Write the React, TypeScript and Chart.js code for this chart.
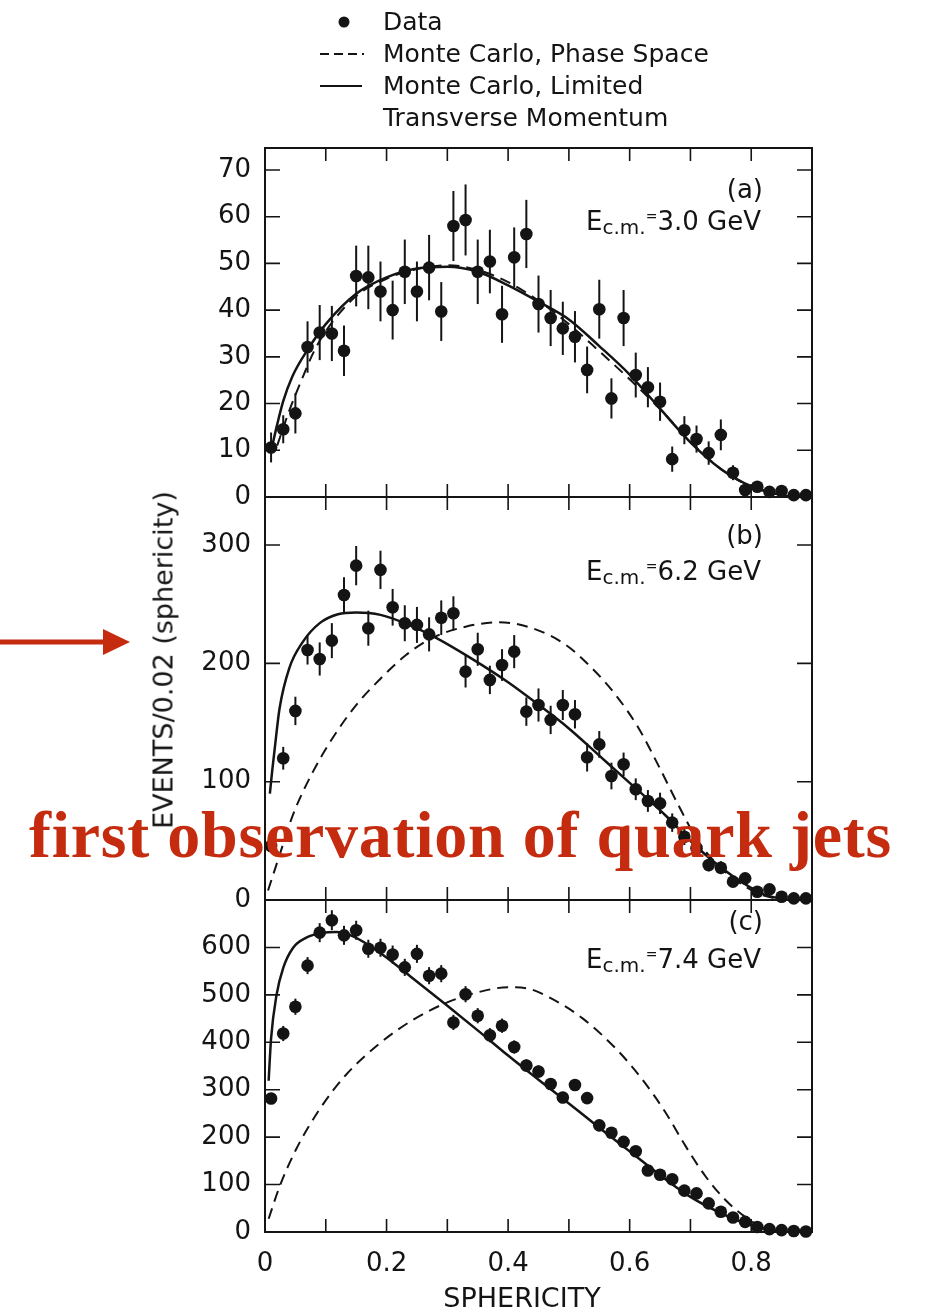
import { useEffect, useRef } from 'react';
import { Chart, registerables } from 'chart.js';

Chart.register(...registerables);

// ---------- data ----------
const BIN_CENTERS = [
  0.01, 0.03, 0.05, 0.07, 0.09, 0.11, 0.13, 0.15, 0.17, 0.19, 0.21, 0.23, 0.25, 0.27, 0.29,
  0.31, 0.33, 0.35, 0.37, 0.39, 0.41, 0.43, 0.45, 0.47, 0.49, 0.51, 0.53, 0.55, 0.57, 0.59,
  0.61, 0.63, 0.65, 0.67, 0.69, 0.71, 0.73, 0.75, 0.77, 0.79, 0.81, 0.83, 0.85, 0.87, 0.89,
];

// (a) Ecm = 3.0 GeV
const A_DATA = [
  10.6, 14.5, 17.9, 32.1, 35.2, 35.0, 31.3, 47.3, 47.0, 44.0, 40.0, 48.2, 44.0, 49.1, 39.7,
  58.0, 59.3, 48.2, 50.4, 39.1, 51.3, 56.3, 41.3, 38.3, 36.1, 34.3, 27.2, 40.2, 21.1, 38.3,
  26.1, 23.5, 20.4, 8.1, 14.3, 12.4, 9.4, 13.3, 5.2, 1.5, 2.2, 1.1, 1.3, 0.4, 0.4,
];
const A_ERR = [
  3.2, 3.0, 4.3, 5.5, 5.9, 5.9, 5.4, 6.5, 6.8, 6.4, 6.3, 6.9, 6.4, 7.0, 6.3,
  7.5, 7.6, 6.9, 6.8, 6.1, 6.4, 7.3, 6.1, 6.0, 5.7, 5.5, 5.0, 6.3, 4.3, 6.0,
  4.8, 4.3, 4.1, 2.7, 3.0, 2.9, 2.5, 3.3, 1.6, 1.0, 1.2, 0.8, 0.8, 0.5, 0.5,
];
const A_LIMITED_X = [0.012, 0.02, 0.03, 0.045, 0.07, 0.1, 0.15, 0.2, 0.25, 0.3, 0.35, 0.4, 0.45, 0.5, 0.55, 0.6, 0.65, 0.7, 0.75, 0.8, 0.85, 0.875];
const A_LIMITED_Y = [11, 15.5, 20.5, 25.8, 31.5, 37, 43.5, 47, 48.9, 49.3, 48.2, 45.3, 41.8, 38, 32.3, 26.2, 18.9, 11.7, 6.0, 2.3, 0.4, 0];
const A_PHASE_X = [0.02, 0.04, 0.06, 0.08, 0.1, 0.15, 0.2, 0.25, 0.3, 0.35, 0.4, 0.45, 0.5, 0.55, 0.6, 0.65, 0.7, 0.75, 0.8, 0.85, 0.88];
const A_PHASE_Y = [11, 18.5, 25, 31, 35.5, 43, 46.7, 48.8, 49.6, 48.6, 46, 42, 37, 31.2, 25.2, 18.8, 11.8, 6, 2.2, 0.4, 0];

// (b) Ecm = 6.2 GeV
const B_DATA = [
  45.6, 119.8, 159.8, 211.3, 203.7, 219.2, 257.8, 282.6, 229.7, 279.0, 247.4, 233.9, 232.5, 224.5, 238.6,
  242.3, 193.0, 211.9, 186.0, 198.6, 209.9, 159.2, 164.8, 152.2, 164.8, 157.0, 120.6, 131.5, 104.8, 114.7,
  93.6, 83.7, 81.7, 65.4, 53.5, 43.7, 29.6, 27.3, 15.5, 18.3, 7.0, 9.0, 2.8, 1.4, 1.4,
];
const B_ERR = [
  6, 9.6, 12.0, 12.3, 14, 14.8, 15, 16.6, 14.8, 16.2, 15.5, 15.2, 15.2, 14.4, 14.6,
  14.4, 13.4, 14, 12, 13.4, 14, 12, 14, 12, 12.7, 12, 12, 11.3, 11.3, 9.9,
  9.2, 9.2, 9, 7.8, 7, 6.5, 5.5, 5.5, 4, 4.5, 3, 3, 2, 1.5, 1.5,
];
const B_LIMITED_X = [0.008, 0.012, 0.016, 0.024, 0.04, 0.062, 0.09, 0.12, 0.15, 0.19, 0.23, 0.28, 0.34, 0.4, 0.45, 0.5, 0.55, 0.6, 0.66, 0.71, 0.77, 0.82, 0.86];
const B_LIMITED_Y = [90, 110, 128, 162, 196, 218, 234, 241.5, 243, 241, 234, 222, 204, 184, 165, 145, 122, 99, 71, 45, 20, 5, 0];
const B_PHASE_X = [0.005, 0.024, 0.046, 0.079, 0.111, 0.15, 0.188, 0.232, 0.276, 0.33, 0.385, 0.44, 0.495, 0.538, 0.577, 0.615, 0.647, 0.68, 0.713, 0.745, 0.778, 0.811, 0.85];
const B_PHASE_Y = [8, 38, 72, 108.5, 136.7, 164.8, 186, 207, 221.7, 231, 234.7, 229.7, 215.6, 195.9, 173.3, 145, 114, 80.3, 49.3, 29.6, 15.5, 5.6, 0];

// (c) Ecm = 7.4 GeV
const C_DATA = [
  281.5, 418.5, 475, 561.7, 631.2, 657.4, 625.5, 636.2, 597.2, 599.3, 585, 558, 586.5, 540.4, 544.7,
  441.8, 501.4, 456, 414.9, 435, 390, 351, 338.3, 312, 283.6, 310, 282.3, 224.9, 209.2, 190,
  170.2, 129.8, 120.6, 111.3, 87.2, 81.5, 60.3, 42.6, 30.5, 21.3, 10.6, 6, 4, 2, 1,
];
const C_ERR = [
  10, 16, 17, 18, 20, 21, 20, 20, 19, 19, 19, 18, 19, 18, 18,
  16, 17, 16, 15, 15, 14, 13, 13, 12, 12, 12, 12, 10, 10, 9,
  9, 8, 8, 7, 6, 6, 5, 4, 4, 3, 2, 2, 1, 1, 1,
];
const C_LIMITED_X = [0.006, 0.01, 0.019, 0.03, 0.046, 0.068, 0.095, 0.117, 0.144, 0.188, 0.243, 0.298, 0.352, 0.4, 0.45, 0.5, 0.55, 0.6, 0.65, 0.7, 0.75, 0.8, 0.85];
const C_LIMITED_Y = [319, 408, 500, 557, 599, 620.6, 631, 632.6, 624, 590, 535, 479, 423, 372, 321, 271, 220, 170, 120, 74, 40, 14, 0];
const C_PHASE_X = [0.006, 0.024, 0.051, 0.09, 0.133, 0.188, 0.243, 0.298, 0.352, 0.4, 0.43, 0.467, 0.522, 0.577, 0.62, 0.659, 0.692, 0.725, 0.758, 0.79, 0.823, 0.856];
const C_PHASE_Y = [28, 95.7, 173.8, 259, 331, 397, 447, 483, 506, 516, 514, 495, 451, 387, 323, 252, 181, 117, 67, 32, 7, 0];

// ticks
const X_TICKS = [0, 0.1, 0.2, 0.3, 0.4, 0.5, 0.6, 0.7, 0.8];
const X_TICK_LABELS = ['0', '', '0.2', '', '0.4', '', '0.6', '', '0.8'];
const Y_TICKS_A = [0, 10, 20, 30, 40, 50, 60, 70];
const Y_TICKS_B = [0, 100, 200, 300];
const Y_TICKS_C = [0, 100, 200, 300, 400, 500, 600];

const INK = '#141414';
const RED = '#c52b0e';
const TICK_FONT = { family: 'DejaVu Sans', size: 26 };

const pts = (xs: number[], ys: number[]) => xs.map((x, i) => ({ x, y: ys[i] }));

function panelDatasets(axis: string, data: number[], err: number[], lx: number[], ly: number[], px: number[], py: number[]) {
  return [
    {
      label: 'Data',
      data: pts(BIN_CENTERS, data),
      errors: err,
      yAxisID: axis,
      xAxisID: 'x',
      showLine: false,
      pointRadius: 6.3,
      pointBackgroundColor: INK,
      pointBorderColor: INK,
      pointBorderWidth: 0,
      clip: 12,
    },
    {
      label: 'Monte Carlo, Limited Transverse Momentum',
      data: pts(lx, ly),
      yAxisID: axis,
      xAxisID: 'x',
      borderColor: INK,
      borderWidth: 2.5,
      pointRadius: 0,
      cubicInterpolationMode: 'monotone',
      fill: false,
    },
    {
      label: 'Monte Carlo, Phase Space',
      data: pts(px, py),
      yAxisID: axis,
      xAxisID: 'x',
      borderColor: INK,
      borderWidth: 2,
      borderDash: [11, 7],
      pointRadius: 0,
      cubicInterpolationMode: 'monotone',
      fill: false,
    },
  ];
}

const framePlugin = {
  id: 'panelFrames',
  afterDatasetsDraw(chart: any) {
    const ctx = chart.ctx;
    const xs = chart.scales.x;
    ctx.save();
    ctx.strokeStyle = INK;
    ctx.fillStyle = INK;
    // error bars
    chart.data.datasets.forEach((ds: any) => {
      if (!ds.errors) return;
      const ys = chart.scales[ds.yAxisID];
      ctx.lineWidth = 2;
      ds.data.forEach((p: any, i: number) => {
        const e = ds.errors[i];
        const px = xs.getPixelForValue(p.x);
        const y1 = ys.getPixelForValue(p.y + e);
        const y2 = ys.getPixelForValue(Math.max(0, p.y - e));
        ctx.beginPath();
        ctx.moveTo(px, y1);
        ctx.lineTo(px, y2);
        ctx.stroke();
      });
    });
    // frames and inward ticks
    ['ya', 'yb', 'yc'].forEach((id) => {
      const s = chart.scales[id];
      ctx.lineWidth = 2;
      ctx.strokeRect(xs.left, s.top, xs.right - xs.left, s.bottom - s.top);
      ctx.lineWidth = 1.6;
      s.ticks.forEach((t: any) => {
        if (t.value <= 0) return;
        const py = s.getPixelForValue(t.value);
        if (py <= s.top + 1) return;
        ctx.beginPath();
        ctx.moveTo(xs.left, py);
        ctx.lineTo(xs.left + 15, py);
        ctx.moveTo(xs.right, py);
        ctx.lineTo(xs.right - 15, py);
        ctx.stroke();
      });
      xs.ticks.forEach((t: any) => {
        if (t.value <= 0) return;
        const px = xs.getPixelForValue(t.value);
        ctx.beginPath();
        ctx.moveTo(px, s.bottom);
        ctx.lineTo(px, s.bottom - 13);
        ctx.moveTo(px, s.top);
        ctx.lineTo(px, s.top + 13);
        ctx.stroke();
      });
    });
    ctx.restore();
  },
};

function yAxis(ticks: number[], max: number, stackWeight: number, weight: number) {
  return {
    type: 'linear',
    position: 'left',
    stack: 'panels',
    stackWeight,
    weight,
    min: 0,
    max,
    grid: { display: false, drawTicks: false },
    border: { display: false },
    afterBuildTicks: (s: any) => {
      s.ticks = ticks.map((v) => ({ value: v }));
    },
    afterFit: (s: any) => {
      s.width = 265;
    },
    ticks: {
      autoSkip: false,
      padding: 14,
      color: INK,
      font: TICK_FONT,
      callback: (v: any) => String(v),
    },
  };
}

export default function App() {
  const ref = useRef<HTMLCanvasElement>(null);

  useEffect(() => {
    if (!ref.current) return;
    const chart = new Chart(ref.current, {
      type: 'line',
      data: {
        datasets: [
          ...panelDatasets('ya', A_DATA, A_ERR, A_LIMITED_X, A_LIMITED_Y, A_PHASE_X, A_PHASE_Y),
          ...panelDatasets('yb', B_DATA, B_ERR, B_LIMITED_X, B_LIMITED_Y, B_PHASE_X, B_PHASE_Y),
          ...panelDatasets('yc', C_DATA, C_ERR, C_LIMITED_X, C_LIMITED_Y, C_PHASE_X, C_PHASE_Y),
        ] as any,
      },
      options: {
        responsive: false,
        animation: false,
        events: [],
        layout: { padding: { left: 0, right: 115, top: 148, bottom: 0 } },
        plugins: { legend: { display: false }, tooltip: { enabled: false } },
        scales: {
          x: {
            type: 'linear',
            position: 'bottom',
            min: 0,
            max: 0.9,
            grid: { display: false, drawTicks: false },
            border: { display: false },
            afterBuildTicks: (s: any) => {
              s.ticks = X_TICKS.map((v) => ({ value: v }));
            },
            afterFit: (s: any) => {
              s.height = 80;
            },
            ticks: {
              autoSkip: false,
              maxRotation: 0,
              padding: 17,
              color: INK,
              font: TICK_FONT,
              callback: (_v: any, i: number) => X_TICK_LABELS[i] ?? '',
            },
          },
          ya: yAxis(Y_TICKS_A, 74.7, 349, 3),
          yb: yAxis(Y_TICKS_B, 340.6, 403, 2),
          yc: yAxis(Y_TICKS_C, 700, 332, 1),
        } as any,
      },
      plugins: [framePlugin],
    });
    return () => chart.destroy();
  }, []);

  const legendText = { position: 'absolute' as const, left: 383, fontSize: 25, lineHeight: 1, whiteSpace: 'nowrap' as const };
  const panelTag = { position: 'absolute' as const, right: 164, fontSize: 26, lineHeight: 1 };
  const ecm = { position: 'absolute' as const, left: 586, fontSize: 26, lineHeight: 1, whiteSpace: 'nowrap' as const };
  const sub = { fontSize: 20, position: 'relative' as const, top: 4 };
  const eq = { fontSize: 14, position: 'relative' as const, top: -9 };

  return (
    <div
      style={{
        position: 'absolute',
        left: 0,
        top: 0,
        width: 927,
        height: 1312,
        background: '#fff',
        overflow: 'hidden',
        fontFamily: 'DejaVu Sans',
        color: INK,
      }}
    >
      <canvas ref={ref} width={927} height={1312} style={{ position: 'absolute', left: 0, top: 0 }} />

      {/* legend */}
      <svg width={927} height={140} style={{ position: 'absolute', left: 0, top: 0 }}>
        <circle cx={344} cy={22} r={5.5} fill={INK} />
        <line x1={320} x2={364} y1={54} y2={54} stroke={INK} strokeWidth={1.8} strokeDasharray="9 5" />
        <line x1={320} x2={362} y1={86} y2={86} stroke={INK} strokeWidth={2} />
      </svg>
      <div style={{ ...legendText, top: 9 }}>Data</div>
      <div style={{ ...legendText, top: 41 }}>Monte Carlo, Phase Space</div>
      <div style={{ ...legendText, top: 73 }}>Monte Carlo, Limited</div>
      <div style={{ ...legendText, top: 105 }}>Transverse Momentum</div>

      {/* panel annotations */}
      <div style={{ ...panelTag, top: 176 }}>(a)</div>
      <div style={{ ...ecm, top: 208 }}>
        E<span style={sub}>c.m.</span><span style={eq}>=</span>3.0 GeV
      </div>
      <div style={{ ...panelTag, top: 522 }}>(b)</div>
      <div style={{ ...ecm, top: 558 }}>
        E<span style={sub}>c.m.</span><span style={eq}>=</span>6.2 GeV
      </div>
      <div style={{ ...panelTag, top: 908 }}>(c)</div>
      <div style={{ ...ecm, top: 946 }}>
        E<span style={sub}>c.m.</span><span style={eq}>=</span>7.4 GeV
      </div>

      {/* axis titles */}
      <div
        style={{
          position: 'absolute',
          left: 163,
          top: 660,
          fontSize: 27,
          lineHeight: 1,
          whiteSpace: 'nowrap',
          transform: 'translate(-50%, -50%) rotate(-90deg)',
        }}
      >
        EVENTS/0.02 (sphericity)
      </div>
      <div
        style={{
          position: 'absolute',
          left: 522,
          top: 1297,
          fontSize: 27,
          lineHeight: 1,
          whiteSpace: 'nowrap',
          transform: 'translate(-50%, -50%)',
        }}
      >
        SPHERICITY
      </div>

      {/* annotation */}
      <svg width={140} height={40} style={{ position: 'absolute', left: 0, top: 622 }}>
        <line x1={0} x2={106} y1={20} y2={20} stroke={RED} strokeWidth={5} />
        <polygon points="103,7 130,20 103,33" fill={RED} />
      </svg>
      <div
        style={{
          position: 'absolute',
          left: 29,
          top: 802,
          fontFamily: 'Liberation Serif',
          fontWeight: 'bold',
          fontSize: 66,
          lineHeight: 1,
          letterSpacing: 0.75,
          whiteSpace: 'nowrap',
          color: RED,
        }}
      >
        first observation of quark jets
      </div>
    </div>
  );
}
